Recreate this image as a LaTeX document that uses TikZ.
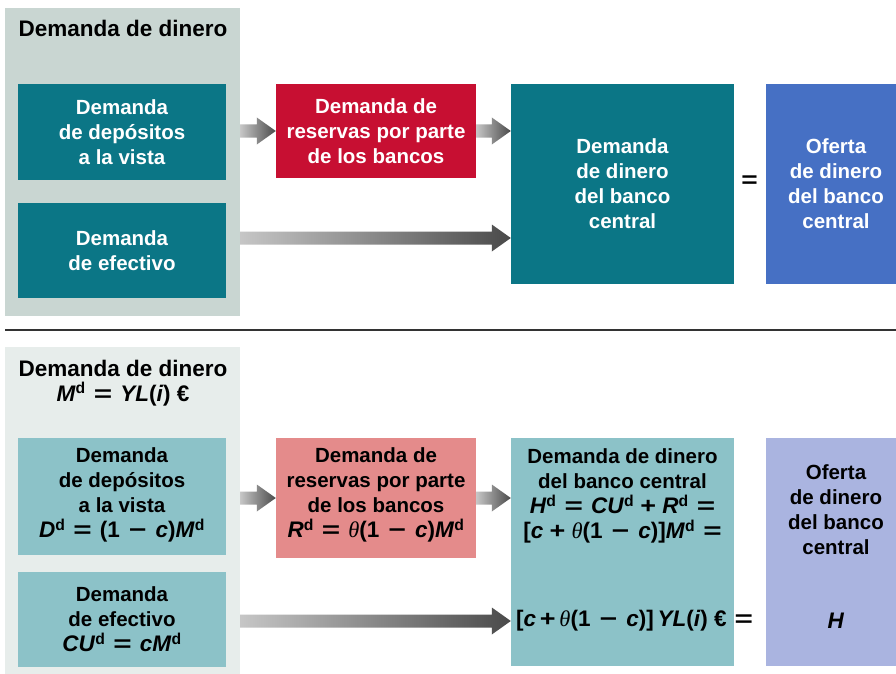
\documentclass[tikz,border=0pt]{standalone}
\usepackage{fontspec}
\usepackage{graphicx}
\setmainfont{Liberation Sans}
\newfontfamily\thetafont{Liberation Serif}
\usetikzlibrary{calc}
\definecolor{panelA}{HTML}{C9D6D2}
\definecolor{panelB}{HTML}{E7EDEB}
\definecolor{tealA}{HTML}{0B7686}
\definecolor{tealB}{HTML}{8CC2C8}
\definecolor{redA}{HTML}{C70F32}
\definecolor{redB}{HTML}{E48B8B}
\definecolor{blueA}{HTML}{4670C4}
\definecolor{blueB}{HTML}{AAB4E0}
\definecolor{arrowlight}{HTML}{C6C6C6}
\definecolor{arrowdark}{HTML}{4A4A4A}
\tikzset{
  box/.style={inner sep=0pt, align=center, font=\bfseries\fontsize{20.5}{25}\selectfont},
  title/.style={inner sep=0pt, align=center, font=\bfseries\fontsize{22.5}{25}\selectfont},
}
\newcommand{\fm}[1]{{\fontsize{22.5}{25}\selectfont #1}}
\newcommand{\vv}[1]{\textit{#1}}
\newcommand{\dd}{\textsuperscript{d}}
\newcommand{\thet}{{\thetafont\mdseries\itshape θ}}
\newcommand{\eqs}{\hspace{0.08em}\scalebox{1.4}[1]{=}\hspace{0.08em}}
\newcommand{\mns}{\hspace{0.4em}\scalebox{1.35}[1]{−}\hspace{0.4em}}
\newcommand{\pls}{\scalebox{1.2}[1]{+}}
% shaded fat arrow between two named coordinates
\newcommand{\fatarrow}[2]{
  \shade[left color=arrowlight, right color=arrowdark]
    ($(#1)+(0,-6.5)$) -- ($(#2)+(-19,-6.5)$) -- ($(#2)+(-19,-13.5)$) -- (#2)
    -- ($(#2)+(-19,13.5)$) -- ($(#2)+(-19,6.5)$) -- ($(#1)+(0,6.5)$) -- cycle;
}
\begin{document}
\begin{tikzpicture}[x=1pt,y=-1pt]
\useasboundingbox (0,0) rectangle (896,674);
\clip (0,0) rectangle (896,674);
\fill[white] (0,0) rectangle (896,674);
% top panel
\node[fill=panelA, minimum width=235pt, minimum height=308pt] (bg1) at (122.5,162){};
\node[title] (tit1) at (123,28){Demanda de dinero};
\node[box, fill=tealA, text=white, minimum width=208pt, minimum height=96pt] (dep1) at (122,132){Demanda\\de depósitos\\a la vista};
\node[box, fill=tealA, text=white, minimum width=208pt, minimum height=95pt] (efe1) at (122,250.5){Demanda\\de efectivo};
\node[box, fill=redA, text=white, minimum width=200pt, minimum height=94pt] (res1) at (376,131){Demanda de\\reservas por parte\\de los bancos};
\node[box, fill=tealA, text=white, minimum width=223pt, minimum height=200pt] (bc1) at (622.5,184){Demanda\\de dinero\\del banco\\central};
\node[box, fill=blueA, text=white, minimum width=140pt, minimum height=200pt] (of1) at (836,184){Oferta\\de dinero\\del banco\\central};
\node[box] (eq1) at (749.5,182){\fm{\scalebox{1.25}[1]{=}}};
\coordinate (a1s) at (bg1.east |- res1.west);
\coordinate (a2e) at (bc1.west |- res1.east);
\coordinate (a3s) at (240,238);
\coordinate (a3e) at (bc1.west |- a3s);
\fatarrow{a1s}{res1.west}
\fatarrow{res1.east}{a2e}
\fatarrow{a3s}{a3e}
\draw[line width=2.5pt, color=black!80] (5,330) -- (896,330);
% bottom panel
\node[fill=panelB, minimum width=235pt, minimum height=327pt] (bg2) at (122.5,510.5){};
\node[title] (tit2) at (123,383){Demanda de dinero\\\vv{M}\dd{} \eqs{} \vv{YL}(\vv{i}) €};
\node[box, fill=tealB, minimum width=208pt, minimum height=117pt] (dep2) at (122,496.5){};
\node[box] (dep2t) at (122,495){Demanda\\de depósitos\\a la vista\\\fm{\vv{D}\dd{} \eqs{} (1\mns\vv{c})\vv{M}\dd}};
\node[box, fill=tealB, minimum width=208pt, minimum height=95pt] (efe2) at (122,619.5){Demanda\\de efectivo\\\fm{\vv{CU}\dd{} \eqs{} \vv{cM}\dd}};
\node[box, fill=redB, minimum width=200pt, minimum height=120pt] (res2) at (376,498){};
\node[box] (res2t) at (376,495){Demanda de\\reservas por parte\\de los bancos\\\fm{\vv{R}\dd{} \eqs{} \thet(1\mns\vv{c})\vv{M}\dd}};
\node[box, fill=tealB, minimum width=223pt, minimum height=228pt] (bc2) at (622.5,552){};
\node[box] (bc2t) at (622.5,496){Demanda de dinero\\del banco central\\\fm{\vv{H}\dd{} \eqs{} \vv{CU}\dd{} \pls{} \vv{R}\dd{} \eqs}\\\fm{{}[\vv{c} \pls{} \thet(1\mns\vv{c})]\vv{M}\dd{} \eqs}};
\node[box, fill=blueB, minimum width=140pt, minimum height=228pt] (of2) at (836,552){};
\node[box] (of2t) at (836,510){Oferta\\de dinero\\del banco\\central};
\node[box, anchor=west] (eq2) at (516,621){\fm{[\vv{c}\,\pls\,\thet(1\mns\vv{c})]\,\vv{YL}(\vv{i}) € \eqs}};
\node[box] (h2) at (836,621){\fm{\vv{H}}};
\coordinate (a4s) at (bg2.east |- res2.west);
\coordinate (a5e) at (bc2.west |- res2.east);
\coordinate (a6s) at (bg2.east |- eq2.west);
\coordinate (a6e) at (bc2.west |- eq2.west);
\fatarrow{a4s}{res2.west}
\fatarrow{res2.east}{a5e}
\fatarrow{a6s}{a6e}
\end{tikzpicture}
\end{document}
